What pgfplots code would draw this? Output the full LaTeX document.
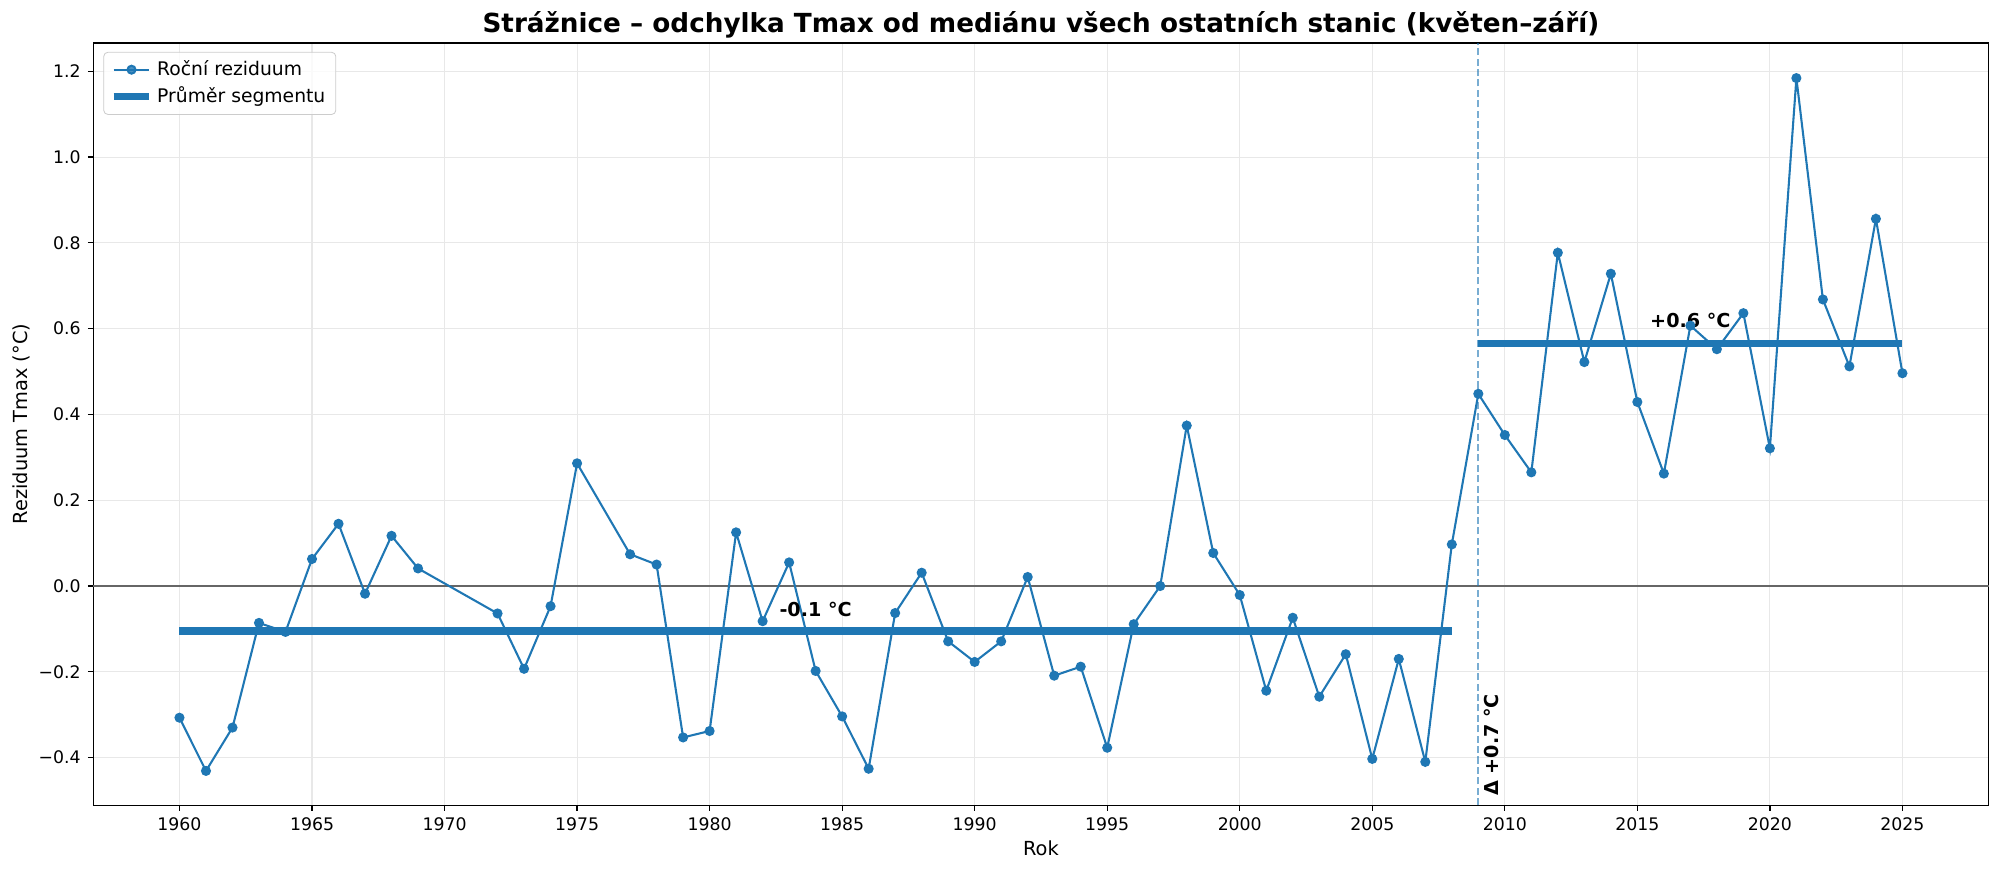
\documentclass[border=0pt]{standalone}
\usepackage{fontspec}
\setmainfont{DejaVu Sans}
\usepackage{pgfplots}
\usepackage{pgfplotstable}
\pgfplotsset{compat=1.18}
\definecolor{tabblue}{HTML}{1F77B4}

\pgfplotstableread{
year val
1960 -0.307
1961 -0.431
1962 -0.330
1963 -0.086
1964 -0.107
1965 0.063
1966 0.145
1967 -0.018
1968 0.117
1969 0.041
1972 -0.064
1973 -0.193
1974 -0.047
1975 0.286
1977 0.074
1978 0.050
1979 -0.353
1980 -0.338
1981 0.125
1982 -0.082
1983 0.055
1984 -0.198
1985 -0.304
1986 -0.426
1987 -0.063
1988 0.031
1989 -0.129
1990 -0.177
1991 -0.129
1992 0.021
1993 -0.209
1994 -0.188
1995 -0.377
1996 -0.089
1997 0.000
1998 0.374
1999 0.077
2000 -0.021
2001 -0.244
2002 -0.074
2003 -0.258
2004 -0.159
2005 -0.403
2006 -0.170
2007 -0.410
2008 0.097
2009 0.448
2010 0.352
2011 0.265
2012 0.777
2013 0.522
2014 0.728
2015 0.429
2016 0.262
2017 0.607
2018 0.552
2019 0.636
2020 0.321
2021 1.184
2022 0.668
2023 0.512
2024 0.856
2025 0.496
}\resid

\begin{document}
\begin{tikzpicture}
\path[use as bounding box] (-44.8pt,-32pt) rectangle (915.2pt,386.5pt);
\begin{axis}[
  at={(0,0)}, anchor=south west,
  scale only axis, width=909.7pt, height=365.9pt,
  xmin=1956.75, xmax=2028.25, ymin=-0.511, ymax=1.266,
  xtick={1960,1965,1970,1975,1980,1985,1990,1995,2000,2005,2010,2015,2020,2025},
  ytick={-0.4,-0.2,0,0.2,0.4,0.6,0.8,1.0,1.2},
  yticklabels={−0.4,−0.2,0.0,0.2,0.4,0.6,0.8,1.0,1.2},
  grid=major, grid style={black!9, line width=0.5pt},
  tick align=outside, tick pos=left, major tick length=2.6pt,
  tick style={black, line width=0.6pt},
  axis line style={line width=0.6pt},
  ticklabel style={font=\fontsize{8.3}{10}\selectfont},
  xticklabel style={/pgf/number format/1000 sep={}, /pgf/number format/assume math mode=true},
  xlabel={Rok}, ylabel={Reziduum Tmax (°C)},
  label style={font=\fontsize{9.3}{11}\selectfont},
  xlabel style={at={(axis description cs:0.5,0)}, anchor=center, yshift=-20.5pt},
  ylabel style={at={(axis description cs:0,0.5)}, anchor=center, yshift=34.4pt},
  clip=false,
  legend cell align=left,
  legend style={at={(axis description cs:0,1)}, anchor=north west, xshift=4.8pt, yshift=-4.3pt,
    draw=black!20, rounded corners=2pt, fill=white, fill opacity=0.8, text opacity=1,
    font=\fontsize{9}{10.5}\selectfont, inner xsep=3pt, inner ysep=2pt, row sep=0pt},
]
\addplot[black!60, line width=0.7pt, forget plot] coordinates {(1956.75,0) (2028.25,0)};
\addplot[tabblue, opacity=0.6, line width=0.8pt, dash pattern=on 3.4pt off 1.6pt, forget plot] coordinates {(2009,-0.511) (2009,1.266)};
\addplot[tabblue, line width=1pt, mark=*, mark size=1.9pt, mark options={solid, fill=tabblue, draw=tabblue}] table[x=year, y=val] {\resid};
\addlegendentry{Roční reziduum}
\addplot[tabblue, line width=3.6pt] coordinates {(1960,-0.105) (2008,-0.105)};
\addlegendentry{Průměr segmentu}
\addplot[tabblue, line width=3.6pt, forget plot] coordinates {(2009,0.565) (2025,0.565)};
\node[anchor=base, inner sep=0pt, font=\bfseries\fontsize{9.2}{11}\selectfont] at (axis cs:1984,-0.070) {-0.1 °C};
\node[anchor=base, inner sep=0pt, font=\bfseries\fontsize{9.2}{11}\selectfont] at (axis cs:2017,0.602) {+0.6 °C};
\node[rotate=90, anchor=base west, inner sep=0pt, font=\bfseries\fontsize{9.2}{11}\selectfont] at (axis cs:2009.76,-0.490) {Δ +0.7 °C};
\node[anchor=base, inner sep=0pt, font=\bfseries\fontsize{12.6}{15}\selectfont] at ([yshift=4.8pt]rel axis cs:0.5,1) {Strážnice – odchylka Tmax od mediánu všech ostatních stanic (květen–září)};
\end{axis}
\end{tikzpicture}
\end{document}
